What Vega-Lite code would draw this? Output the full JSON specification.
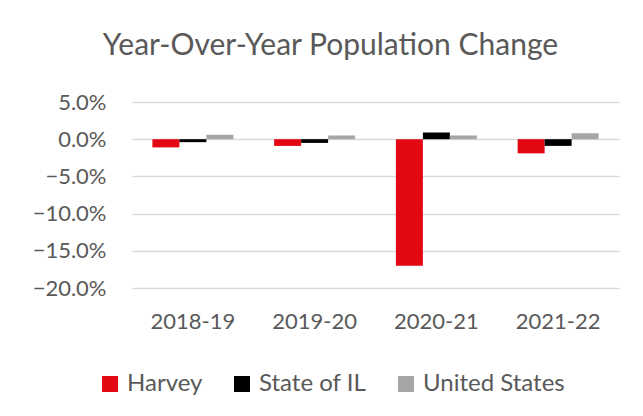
{
  "$schema": "https://vega.github.io/schema/vega-lite/v6.json",
  "autosize": "none",
  "width": 487,
  "height": 186,
  "padding": {"left": 132, "top": 102, "right": 24, "bottom": 128},
  "background": "white",
  "title": {
    "text": "Year-Over-Year Population Change",
    "font": "Lato",
    "fontSize": 30,
    "fontWeight": "normal",
    "color": "#595959",
    "anchor": "middle",
    "dx": -45,
    "offset": 30
  },
  "data": {
    "values": [
      {"period": "2018-19", "area": "Harvey", "change": -0.011},
      {"period": "2018-19", "area": "State of IL", "change": -0.004},
      {"period": "2018-19", "area": "United States", "change": 0.006},
      {"period": "2019-20", "area": "Harvey", "change": -0.009},
      {"period": "2019-20", "area": "State of IL", "change": -0.005},
      {"period": "2019-20", "area": "United States", "change": 0.005},
      {"period": "2020-21", "area": "Harvey", "change": -0.170},
      {"period": "2020-21", "area": "State of IL", "change": 0.009},
      {"period": "2020-21", "area": "United States", "change": 0.005},
      {"period": "2021-22", "area": "Harvey", "change": -0.019},
      {"period": "2021-22", "area": "State of IL", "change": -0.009},
      {"period": "2021-22", "area": "United States", "change": 0.008}
    ]
  },
  "mark": {"type": "bar"},
  "encoding": {
    "x": {
      "field": "period",
      "type": "nominal",
      "sort": null,
      "scale": {"paddingInner": 0.335, "paddingOuter": 0.1675},
      "axis": {
        "title": null,
        "labelAngle": 0,
        "labelFont": "Lato",
        "labelFontSize": 22,
        "labelColor": "#595959",
        "labelPadding": 23,
        "ticks": false,
        "domain": false,
        "grid": false
      }
    },
    "xOffset": {
      "field": "area",
      "type": "nominal",
      "sort": ["Harvey", "State of IL", "United States"],
      "scale": {"paddingInner": 0, "paddingOuter": 0}
    },
    "y": {
      "field": "change",
      "type": "quantitative",
      "scale": {"domain": [-0.2, 0.05], "nice": false, "zero": true},
      "axis": {
        "title": null,
        "format": ".1%",
        "values": [-0.2, -0.15, -0.1, -0.05, 0, 0.05],
        "labelFont": "Lato",
        "labelFontSize": 22,
        "labelColor": "#595959",
        "labelPadding": 26,
        "ticks": false,
        "domain": false,
        "grid": true,
        "gridColor": "#D9D9D9",
        "gridWidth": 1.5
      }
    },
    "color": {
      "field": "area",
      "type": "nominal",
      "sort": ["Harvey", "State of IL", "United States"],
      "scale": {"domain": ["Harvey", "State of IL", "United States"], "range": ["#E30613", "#000000", "#A6A6A6"]},
      "legend": {
        "title": null,
        "orient": "none",
        "legendX": -34,
        "legendY": 270,
        "direction": "horizontal",
        "symbolType": "square",
        "symbolSize": 256,
        "symbolStrokeWidth": 0,
        "labelFont": "Lato",
        "labelFontSize": 24,
        "labelColor": "#595959",
        "labelOffset": 5,
        "columnPadding": 27,
        "padding": 0
      }
    }
  },
  "config": {"view": {"stroke": null}}
}
